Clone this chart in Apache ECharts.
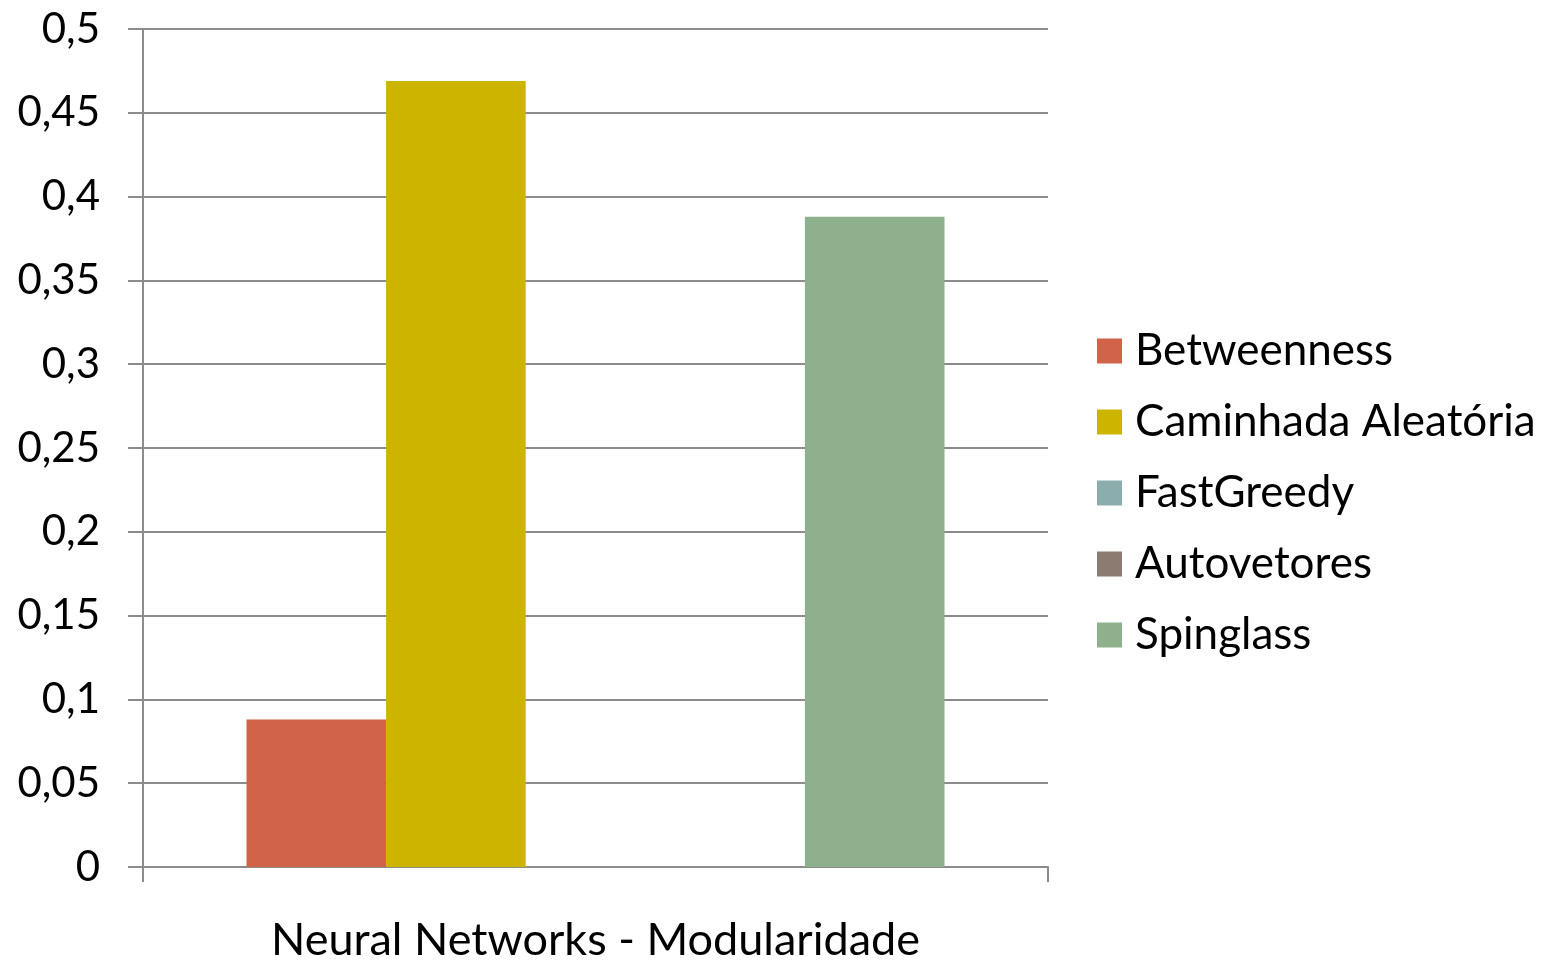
<!DOCTYPE html>
<html>
<head>
<meta charset="utf-8">
<script src="https://cdn.jsdelivr.net/npm/echarts@6/dist/echarts.min.js"></script>
<style>
  html, body { margin: 0; padding: 0; background: #fff; }
  #chart { width: 1558px; height: 960px; }
</style>
</head>
<body>
<div id="chart"></div>
<script>
// dados do gráfico
const categories = ['Neural Networks - Modularidade'];
const seriesNames = ['Betweenness', 'Caminhada Aleatória', 'FastGreedy', 'Autovetores', 'Spinglass'];
const seriesColors = ['#D16349', '#CCB400', '#8CADAE', '#8C7B70', '#8FB08C'];
const betweenness = [0.088];
const caminhada = [0.469];
const fastGreedy = [0];
const autovetores = [0];
const spinglass = [0.388];
const seriesValues = [betweenness, caminhada, fastGreedy, autovetores, spinglass];

const chart = echarts.init(document.getElementById('chart'));
const font = 'Lato';
const gray = '#8c8c8c';

let series = [];
for (let i = 0; i < seriesNames.length; i++) {
  series.push({
    name: seriesNames[i],
    type: 'bar',
    data: seriesValues[i],
    barWidth: 139.6,
    barGap: '0%',
    itemStyle: { color: seriesColors[i] }
  });
}

chart.setOption({
  animation: false,
  color: seriesColors,
  grid: { left: 143, right: 510, top: 29, bottom: 93, outerBoundsMode: 'none' },
  legend: {
    orient: 'vertical',
    left: 1097,
    top: 326,
    padding: 0,
    icon: 'rect',
    itemWidth: 25,
    itemHeight: 25,
    itemGap: 21,
    textStyle: {
      fontFamily: font,
      fontSize: 44,
      color: '#000',
      lineHeight: 50,
      padding: [0, 0, 0, 8]
    },
    data: seriesNames
  },
  xAxis: {
    type: 'category',
    data: categories,
    axisLine: { lineStyle: { color: gray, width: 2 } },
    axisTick: { show: true, length: 15, lineStyle: { color: gray, width: 2 } },
    axisLabel: { fontFamily: font, fontSize: 45, color: '#000', margin: 51 }
  },
  yAxis: {
    type: 'value',
    min: 0,
    max: 0.5,
    interval: 0.05,
    axisLine: { show: true, lineStyle: { color: gray, width: 2 } },
    axisTick: { show: true, length: 15, lineStyle: { color: gray, width: 2 } },
    splitLine: { lineStyle: { color: gray, width: 2 } },
    axisLabel: {
      fontFamily: font,
      fontSize: 42,
      color: '#000',
      margin: 43,
      formatter: function (v) {
        return String(Math.round(v * 100) / 100).replace('.', ',');
      }
    }
  },
  series: series
});
</script>
</body>
</html>
